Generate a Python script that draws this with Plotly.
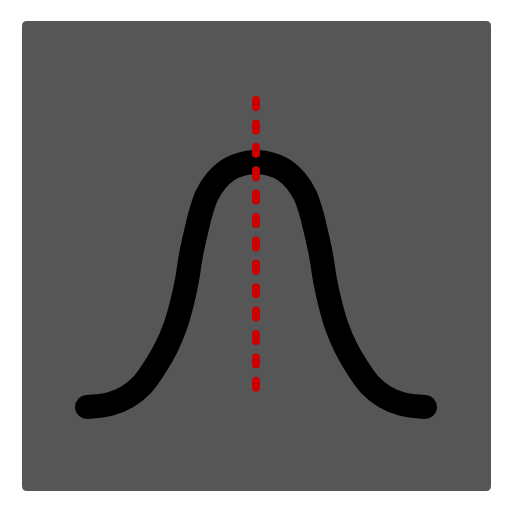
import plotly.graph_objects as go

# bell curve centre line (pixel units, y grows downward)
curve_x = [87, 110, 127, 142, 155, 166, 175, 182, 187, 191, 196, 201, 207, 216, 228, 242, 256,
           270, 284, 296, 305, 311, 316, 321, 325, 330, 337, 346, 357, 370, 385, 402, 425]
curve_y = [407, 404, 397, 385, 367, 348, 327, 303, 280, 255, 232, 212, 195, 181, 170, 164, 162,
           164, 170, 181, 195, 212, 232, 255, 280, 303, 327, 348, 367, 385, 397, 404, 407]

# dashed marker for the mean
mean_x = [256, 256]
mean_y = [100, 388]

# panel extent
panel_x = [22, 491]
panel_y = [21, 491]

fig = go.Figure()

fig.add_trace(go.Scatter(
    x=curve_x, y=curve_y, mode="lines",
    line=dict(color="#000000", width=24, shape="spline", smoothing=1.0),
    hoverinfo="skip",
))

fig.add_trace(go.Scatter(
    x=mean_x, y=mean_y, mode="lines",
    line=dict(color="#cc0000", width=8, dash="7px,16.4px"),
    hoverinfo="skip",
))

# rounded grey panel behind everything
r = 5
x0, x1 = panel_x
y0, y1 = panel_y
panel_path = (
    f"M{x0 + r},{y0} L{x1 - r},{y0} Q{x1},{y0} {x1},{y0 + r} "
    f"L{x1},{y1 - r} Q{x1},{y1} {x1 - r},{y1} "
    f"L{x0 + r},{y1} Q{x0},{y1} {x0},{y1 - r} "
    f"L{x0},{y0 + r} Q{x0},{y0} {x0 + r},{y0} Z"
)
fig.add_shape(type="path", path=panel_path, xref="x", yref="y",
              fillcolor="#565656", line=dict(width=0), layer="below")

fig.update_xaxes(visible=False, range=[0, 512], fixedrange=True)
fig.update_yaxes(visible=False, range=[512, 0], fixedrange=True)

fig.update_layout(
    width=512, height=512,
    margin=dict(l=0, r=0, t=0, b=0),
    paper_bgcolor="#ffffff", plot_bgcolor="#ffffff",
    showlegend=False,
)

# drop the page margin, and give the lines round caps like the icon
post = (
    "document.body.style.margin='0';"
    "document.querySelectorAll('.scatterlayer path.js-line').forEach(function(p){"
    "p.style.strokeLinecap='round';p.style.strokeLinejoin='round';});"
)

fig.write_html("out.html", config={"displayModeBar": False}, post_script=post)
